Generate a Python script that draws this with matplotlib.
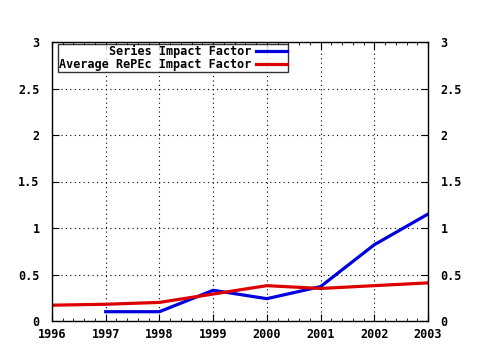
import matplotlib
matplotlib.use("Agg")
import matplotlib.pyplot as plt
from matplotlib.ticker import AutoMinorLocator

years_blue = [1997, 1998, 1999, 2000, 2001, 2002, 2003]
series_if = [0.10, 0.10, 0.33, 0.24, 0.37, 0.82, 1.15]
years_red = [1996, 1997, 1998, 1999, 2000, 2001, 2002, 2003]
avg_if = [0.17, 0.18, 0.20, 0.29, 0.38, 0.35, 0.38, 0.41]
xticks = [1996, 1997, 1998, 1999, 2000, 2001, 2002, 2003]
yticks = [0, 0.5, 1, 1.5, 2, 2.5, 3]
ylabels = ["0", "0.5", "1", "1.5", "2", "2.5", "3"]

plt.rcParams['font.family'] = ['DejaVu Sans Mono']
plt.rcParams['font.weight'] = 'bold'
plt.rcParams['font.size'] = 8.5

fig = plt.figure(figsize=(4.8, 3.5), dpi=100)
ax = fig.add_axes([52/480, 29/350, 376/480, 279/350])
ax.plot(years_blue, series_if, color='#0000dd', lw=2.3, label='Series Impact Factor')
ax.plot(years_red, avg_if, color='#dd0000', lw=2.3, label='Average RePEc Impact Factor')
ax.set_xlim(1996, 2003)
ax.set_ylim(0, 3)
ax.set_xticks(xticks)
ax.set_xticklabels([str(x) for x in xticks])
ax.set_yticks(yticks)
ax.set_yticklabels(ylabels)
ax.tick_params(axis='x', direction='in', length=5, color='black', top=True, pad=5)
ax.tick_params(axis='y', direction='in', length=5, color='black', right=True,
               labelright=True, pad=9)
ax.tick_params(which='minor', direction='in', length=2, top=True, right=True)
ax.xaxis.set_minor_locator(AutoMinorLocator(5))
ax.grid(True, color='black', linestyle=(0, (1, 3)), lw=0.8)
for s in ax.spines.values():
    s.set_linewidth(1)
leg = ax.legend(loc='upper left', markerfirst=False, frameon=True, fancybox=False,
                edgecolor='black', borderpad=0.1, labelspacing=0.0, handlelength=2.6,
                borderaxespad=0.0, handletextpad=0.4,
                bbox_to_anchor=(6/376, 1 - 2/279))
leg.get_frame().set_linewidth(1)
for t in leg.get_texts():
    t.set_ha('right')
fig.savefig('out.png', dpi=100)
